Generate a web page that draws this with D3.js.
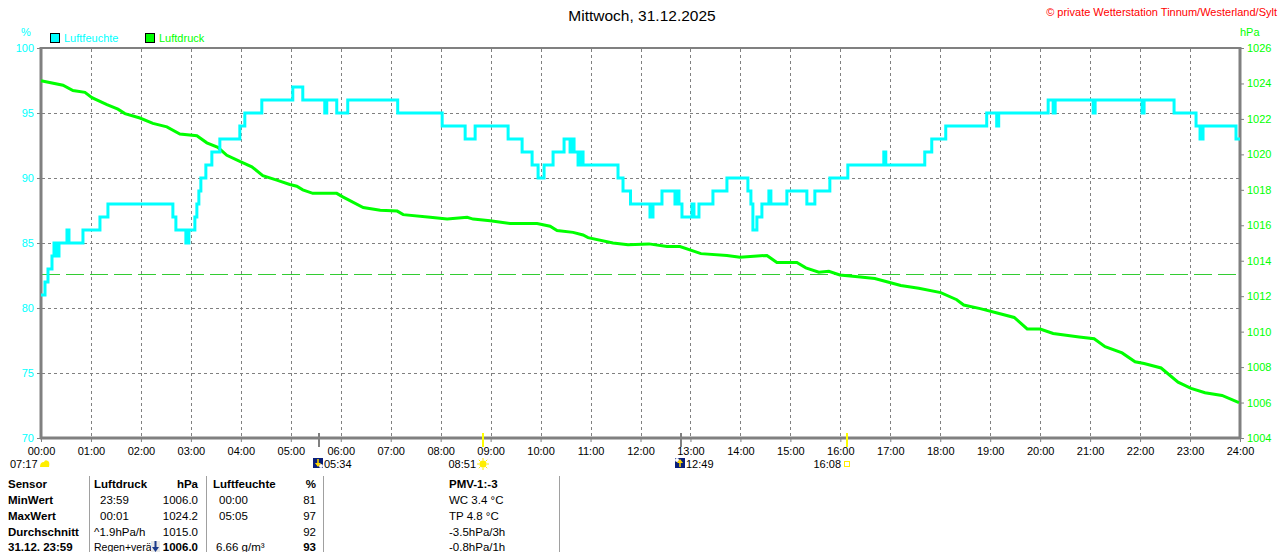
<!DOCTYPE html>
<html><head><meta charset="utf-8">
<script src="https://cdn.jsdelivr.net/npm/d3@7"></script>
<style>
body{margin:0;background:#fff;}
svg{display:block;font-family:"Liberation Sans",Arial,sans-serif;}
</style>
</head><body>
<svg id="c" width="1280" height="552"></svg>
<script>
// ---------- DATA ----------
const titleText = "Mittwoch, 31.12.2025";
const copyrightText = "\u00A9 private Wetterstation Tinnum/Westerland/Sylt";
const hourTicks = d3.range(0, 25);
const hourLabels = hourTicks.map(h => String(h).padStart(2, "0") + ":00");
const humidityTicks = [100, 95, 90, 85, 80, 75, 70];
const pressureTicks = [1026, 1024, 1022, 1020, 1018, 1016, 1014, 1012, 1010, 1008, 1006, 1004];
const referencePressure = 1013.25;

// humidity (%) – step values, time in hours
const humidityTimes = [0,0.08,0.14,0.22,0.26,0.32,0.36,0.52,0.56,0.84,1.18,1.34,2.64,2.70,2.90,2.96,3.08,3.12,3.16,3.20,3.30,3.42,3.58,3.98,4.08,4.42,5.04,5.24,5.68,5.72,5.92,6.14,7.14,8.03,8.49,8.69,9.35,9.63,9.83,9.95,10.07,10.25,10.47,10.59,10.63,10.67,10.75,10.81,10.85,11.55,11.65,11.80,12.19,12.25,12.43,12.69,12.73,12.77,12.83,13.03,13.07,13.17,13.45,13.73,14.15,14.21,14.25,14.33,14.43,14.57,14.61,14.93,15.33,15.49,15.79,16.15,16.87,16.91,17.69,17.83,18.11,18.93,19.13,19.17,20.16,20.26,20.30,21.06,21.10,22.04,22.08,22.68,23.12,23.20,23.26,23.92,24];
const humidityValues = [81,82,83,84,85,84,85,86,85,86,87,88,87,86,85,86,87,88,89,90,91,92,93,94,95,96,97,96,95,96,95,96,95,94,93,94,93,92,91,90,91,92,93,92,93,92,91,92,91,90,89,88,87,88,89,88,89,88,87,88,87,88,89,90,89,88,86,87,88,89,88,89,88,89,90,91,92,91,92,93,94,95,94,95,96,95,96,95,96,95,96,95,94,93,94,93,93];

// pressure (hPa), time in hours
const pressureTimes = [0,0.44,0.64,0.88,1.02,1.32,1.54,1.68,1.98,2.24,2.52,2.78,3.12,3.32,3.54,3.72,3.98,4.22,4.44,4.72,4.98,5.12,5.24,5.44,5.92,6.04,6.45,6.79,7.13,7.25,7.79,8.13,8.53,8.65,8.99,9.39,9.93,10.19,10.33,10.65,10.85,10.95,11.45,11.75,12.17,12.53,12.79,13.21,13.73,13.99,14.27,14.53,14.73,15.13,15.31,15.57,15.77,15.99,16.35,16.69,16.95,17.21,17.57,18.01,18.33,18.47,18.80,19.14,19.48,19.74,20.00,20.26,20.52,20.78,21.08,21.30,21.64,21.90,22.08,22.42,22.76,23.02,23.30,23.64,23.98];
const pressureValues = [1024.15,1023.9,1023.6,1023.5,1023.2,1022.8,1022.55,1022.3,1022.05,1021.75,1021.55,1021.15,1021.05,1020.65,1020.4,1019.95,1019.6,1019.3,1018.8,1018.55,1018.3,1018.2,1018.0,1017.8,1017.8,1017.6,1017.0,1016.85,1016.8,1016.6,1016.45,1016.35,1016.45,1016.35,1016.25,1016.1,1016.1,1015.95,1015.7,1015.6,1015.45,1015.3,1015.0,1014.9,1014.95,1014.8,1014.8,1014.4,1014.3,1014.2,1014.25,1014.3,1013.9,1013.9,1013.6,1013.35,1013.4,1013.2,1013.1,1013.0,1012.8,1012.6,1012.45,1012.2,1011.8,1011.5,1011.3,1011.05,1010.8,1010.15,1010.15,1009.9,1009.8,1009.7,1009.6,1009.15,1008.8,1008.3,1008.2,1007.95,1007.15,1006.8,1006.55,1006.4,1006.0];

// astronomical events
const astroLabels = ["05:34", "08:51", "12:49", "16:08"];
const astroKinds = ["moonset", "sunrise", "moonrise", "sunset"];
const dawnLabel = "07:17";

// table
const tableRowLabels = ["Sensor", "MinWert", "MaxWert", "Durchschnitt", "31.12. 23:59"];
const pressureColLeft = ["Luftdruck", "23:59", "00:01", "^1.9hPa/h", "Regen+ver\u00E4"];
const pressureColRight = ["hPa", "1006.0", "1024.2", "1015.0", "1006.0"];
const humidityColLeft = ["Luftfeuchte", "00:00", "05:05", "", "6.66 g/m\u00B3"];
const humidityColRight = ["%", "81", "97", "92", "93"];
const extraCol = ["PMV-1:-3", "WC 3.4 \u00B0C", "TP 4.8 \u00B0C", "-3.5hPa/3h", "-0.8hPa/1h"];

// ---------- DRAW ----------
const CYAN = "#00FFFF", GREEN = "#00FF00", GRAY = "#808080";
const svg = d3.select("#c");
const x = d3.scaleLinear().domain([0, 24]).range([41, 1240]);
const yH = d3.scaleLinear().domain([70, 100]).range([438, 48]);
const yP = d3.scaleLinear().domain([1004, 1026]).range([438, 48]);
const toHours = s => { const [h, m] = s.split(":").map(Number); return h + m / 60; };

// title + copyright
svg.append("text").attr("x", 642).attr("y", 21).attr("text-anchor", "middle")
  .attr("font-size", 15.5).attr("fill", "#000").text(titleText);
svg.append("text").attr("x", 1277).attr("y", 16).attr("text-anchor", "end")
  .attr("font-size", 11).attr("fill", "#FF0000").text(copyrightText);

// unit labels
svg.append("text").attr("x", 26).attr("y", 36).attr("text-anchor", "middle")
  .attr("font-size", 11).attr("fill", CYAN).text("%");
svg.append("text").attr("x", 1240).attr("y", 36)
  .attr("font-size", 11).attr("fill", GREEN).text("hPa");

// legend
const legend = [["Luftfeuchte", CYAN, 50], ["Luftdruck", GREEN, 145]];
legend.forEach(([t, c, lx]) => {
  svg.append("rect").attr("x", lx + 0.5).attr("y", 33.5).attr("width", 9).attr("height", 9)
    .attr("fill", c).attr("stroke", "#000").attr("stroke-width", 1);
  svg.append("text").attr("x", lx + 14).attr("y", 42).attr("font-size", 11).attr("fill", c).text(t);
});

// grid
const grid = svg.append("g").attr("stroke", GRAY).attr("stroke-width", 1).attr("stroke-dasharray", "3,3");
hourTicks.slice(1, 24).forEach(h => {
  grid.append("line").attr("x1", Math.round(x(h)) + 0.5).attr("x2", Math.round(x(h)) + 0.5)
    .attr("y1", 49).attr("y2", 437);
});
humidityTicks.slice(1, 6).forEach(v => {
  grid.append("line").attr("x1", 42).attr("x2", 1239)
    .attr("y1", Math.round(yH(v)) + 0.5).attr("y2", Math.round(yH(v)) + 0.5);
});

// reference pressure line
svg.append("line").attr("x1", 42).attr("x2", 1239)
  .attr("y1", Math.round(yP(referencePressure)) + 0.5).attr("y2", Math.round(yP(referencePressure)) + 0.5)
  .attr("stroke", "#33CC33").attr("stroke-width", 1).attr("stroke-dasharray", "18,6");

// frame
svg.append("line").attr("x1", 40).attr("x2", 1241).attr("y1", 48).attr("y2", 48).attr("stroke", GRAY).attr("stroke-width", 2);
svg.append("line").attr("x1", 41).attr("x2", 41).attr("y1", 47).attr("y2", 439).attr("stroke", GRAY).attr("stroke-width", 3);
svg.append("line").attr("x1", 1240).attr("x2", 1240).attr("y1", 47).attr("y2", 439).attr("stroke", GRAY).attr("stroke-width", 3);
svg.append("line").attr("x1", 40).attr("x2", 1241).attr("y1", 438).attr("y2", 438).attr("stroke", GRAY).attr("stroke-width", 3);

// axes
const axL = svg.append("g").attr("transform", "translate(41,0)")
  .call(d3.axisLeft(yH).tickValues(humidityTicks).tickSize(4).tickPadding(3).tickFormat(d3.format("d")));
axL.select(".domain").remove();
axL.selectAll("line").attr("stroke", GRAY);
axL.selectAll("text").attr("fill", CYAN).attr("font-size", 11).attr("font-family", "Liberation Sans, Arial, sans-serif");

const axR = svg.append("g").attr("transform", "translate(1240,0)")
  .call(d3.axisRight(yP).tickValues(pressureTicks).tickSize(4).tickPadding(3).tickFormat(d3.format("d")));
axR.select(".domain").remove();
axR.selectAll("line").attr("stroke", GRAY);
axR.selectAll("text").attr("fill", GREEN).attr("font-size", 11).attr("font-family", "Liberation Sans, Arial, sans-serif");

const axB = svg.append("g").attr("transform", "translate(0,438)")
  .call(d3.axisBottom(x).tickValues(hourTicks).tickSize(4).tickPadding(5).tickFormat((d, i) => hourLabels[i]));
axB.select(".domain").remove();
axB.selectAll("line").attr("stroke", GRAY);
axB.selectAll("text").attr("fill", "#000").attr("font-size", 11).attr("font-family", "Liberation Sans, Arial, sans-serif");

// data lines
const pLine = d3.line().x((d, i) => x(pressureTimes[i])).y(d => yP(d));
svg.append("path").attr("d", pLine(pressureValues)).attr("fill", "none")
  .attr("stroke", GREEN).attr("stroke-width", 3).attr("stroke-linejoin", "miter");

const hLine = d3.line().x((d, i) => x(humidityTimes[i])).y(d => yH(d)).curve(d3.curveStepAfter);
svg.append("path").attr("d", hLine(humidityValues)).attr("fill", "none")
  .attr("stroke", CYAN).attr("stroke-width", 3);

// astro markers
astroLabels.forEach((lab, i) => {
  const kind = astroKinds[i];
  const ax = Math.round(x(toHours(lab)));
  const isSun = kind.startsWith("sun");
  svg.append("line").attr("x1", ax).attr("x2", ax).attr("y1", 433).attr("y2", 447)
    .attr("stroke", isSun ? "#FFFF00" : GRAY).attr("stroke-width", 2);
  const g = svg.append("g").attr("font-size", 11).attr("fill", "#000");
  if (kind === "moonset" || kind === "moonrise") {
    g.append("rect").attr("x", ax - 6).attr("y", 458).attr("width", 10).attr("height", 10).attr("fill", "#0A1F7A");
    g.append("circle").attr("cx", ax + (kind === "moonset" ? 2 : -4)).attr("cy", kind === "moonset" ? 466 : 460).attr("r", 2).attr("fill", "#fff");
    const dir = kind === "moonset" ? 1 : -1;
    const ay = kind === "moonset" ? 459 : 467;
    g.append("line").attr("x1", ax - 1).attr("x2", ax - 1).attr("y1", ay).attr("y2", ay + dir * 7).attr("stroke", "#FFD700").attr("stroke-width", 1.5);
    g.append("path").attr("d", `M${ax - 4},${ay + dir * 4}L${ax - 1},${ay + dir * 8}L${ax + 2},${ay + dir * 4}Z`).attr("fill", "#FFD700");
    g.append("text").attr("x", ax + 5).attr("y", 468).text(lab);
  } else if (kind === "sunrise") {
    const cy = 464;
    for (let k = 0; k < 8; k++) {
      const a = k * Math.PI / 4;
      g.append("line").attr("x1", ax + Math.cos(a) * 3.5).attr("y1", cy + Math.sin(a) * 3.5)
        .attr("x2", ax + Math.cos(a) * 6).attr("y2", cy + Math.sin(a) * 6).attr("stroke", "#FFEE00").attr("stroke-width", 1);
    }
    g.append("circle").attr("cx", ax).attr("cy", cy).attr("r", 3.5).attr("fill", "#FFEE00");
    g.append("text").attr("x", ax - 7).attr("y", 468).attr("text-anchor", "end").text(lab);
  } else {
    g.append("rect").attr("x", ax - 2.5).attr("y", 461.5).attr("width", 5).attr("height", 5)
      .attr("fill", "none").attr("stroke", "#FFEE00").attr("stroke-width", 1);
    g.append("text").attr("x", ax - 6).attr("y", 468).attr("text-anchor", "end").text(lab);
  }
});
// dawn label with cloud icon
svg.append("text").attr("x", 10).attr("y", 468).attr("font-size", 11).attr("fill", "#000").text(dawnLabel);
svg.append("path").attr("d", "M40,467 Q40,462 44,462 Q45,459 48,461 Q50,462 49,467 Z").attr("fill", "#FFEE00");

// table separators
[89, 206, 323, 559].forEach(sx => {
  svg.append("line").attr("x1", sx + 0.5).attr("x2", sx + 0.5).attr("y1", 476).attr("y2", 552)
    .attr("stroke", "#A0A0A0").attr("stroke-width", 1);
});

const rowY = [488, 504, 520, 536, 551];
const tbl = svg.append("g").attr("font-size", 11.5).attr("fill", "#000");
tableRowLabels.forEach((t, i) => {
  tbl.append("text").attr("x", 8).attr("y", rowY[i]).attr("font-weight", "bold").text(t);
});
pressureColLeft.forEach((t, i) => {
  const el = tbl.append("text").attr("x", i === 0 || i >= 3 ? 94 : 100).attr("y", rowY[i]).text(t);
  if (i === 0) el.attr("font-weight", "bold");
  if (i === 4) el.attr("font-size", 10.5);
});
pressureColRight.forEach((t, i) => {
  tbl.append("text").attr("x", 198).attr("y", rowY[i]).attr("text-anchor", "end")
    .attr("font-weight", i === 0 || i === 4 ? "bold" : "normal").text(t);
});
// small trend arrow icon
tbl.append("rect").attr("x", 151).attr("y", 541).attr("width", 9).attr("height", 11).attr("fill", "#E8E8E8");
tbl.append("line").attr("x1", 155.5).attr("x2", 155.5).attr("y1", 541).attr("y2", 550).attr("stroke", "#1a3a8a").attr("stroke-width", 2);
tbl.append("path").attr("d", "M152,547L155.5,552L159,547Z").attr("fill", "#1a3a8a");
humidityColLeft.forEach((t, i) => {
  const el = tbl.append("text").attr("x", i === 0 ? 213 : (i === 4 ? 216 : 219)).attr("y", rowY[i]).text(t);
  if (i === 0) el.attr("font-weight", "bold");
});
humidityColRight.forEach((t, i) => {
  tbl.append("text").attr("x", 316).attr("y", rowY[i]).attr("text-anchor", "end")
    .attr("font-weight", i === 0 || i === 4 ? "bold" : "normal").text(t);
});
extraCol.forEach((t, i) => {
  tbl.append("text").attr("x", 449).attr("y", rowY[i]).attr("font-weight", i === 0 ? "bold" : "normal").text(t);
});
</script>
</body></html>
